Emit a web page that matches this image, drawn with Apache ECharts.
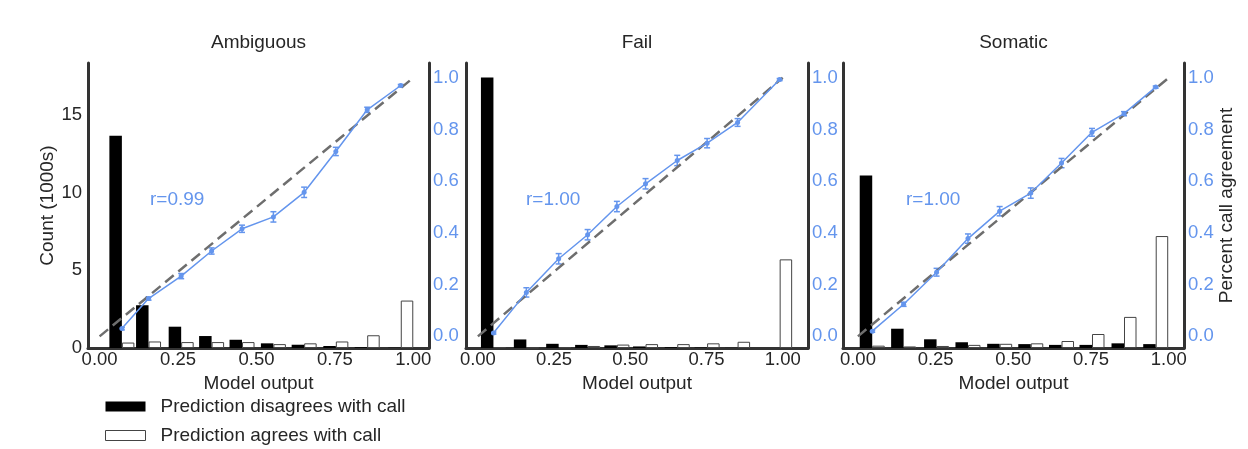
<!DOCTYPE html>
<html lang="en">
<head>
	<meta charset="UTF-8">
	<title>Model output calibration</title>
	<style>
		html, body { margin: 0; padding: 0; background: #fff; }
	</style>
</head>
<body>
	<div id="container" style="width: 1248px;height:449px;"></div>

	<script src="https://cdn.jsdelivr.net/npm/echarts@6/dist/echarts.min.js"></script>
	<script>
        // tick labels
        var xTicks = [0, 0.25, 0.5, 0.75, 1];
        var countTicks = [0, 5, 10, 15];
        var pctTicks = [0, 0.2, 0.4, 0.6, 0.8, 1.0];

        var panelTitles = ['Ambiguous', 'Fail', 'Somatic'];
        var rTexts = ['r=0.99', 'r=1.00', 'r=1.00'];

        // Ambiguous
        var ambigX = [0.071, 0.156, 0.26, 0.357, 0.454, 0.554, 0.652, 0.753, 0.853, 0.96];
        var ambigDisagree = [13.65, 2.75, 1.37, 0.77, 0.53, 0.3, 0.21, 0.13, 0.05, 0.02];
        var ambigAgree = [0.35, 0.42, 0.38, 0.38, 0.38, 0.25, 0.3, 0.42, 0.82, 3.05];
        var ambigPct = [0.03, 0.146, 0.233, 0.33, 0.416, 0.462, 0.557, 0.715, 0.876, 0.97];
        var ambigErr = [0.005, 0.006, 0.01, 0.012, 0.014, 0.02, 0.02, 0.016, 0.01, 0.004];

        // Fail
        var failX = [0.051, 0.159, 0.265, 0.36, 0.456, 0.55, 0.654, 0.752, 0.852, 0.99];
        var failDisagree = [17.4, 0.55, 0.27, 0.2, 0.17, 0.1, 0.05, 0.03, 0.01, 0];
        var failAgree = [0.05, 0.03, 0.05, 0.13, 0.22, 0.25, 0.25, 0.3, 0.4, 5.7];
        var failPct = [0.013, 0.17, 0.3, 0.393, 0.502, 0.59, 0.68, 0.747, 0.827, 0.993];
        var failErr = [0.004, 0.018, 0.02, 0.02, 0.02, 0.02, 0.02, 0.018, 0.015, 0.004];

        // Somatic
        var somX = [0.046, 0.147, 0.253, 0.354, 0.456, 0.556, 0.655, 0.753, 0.856, 0.958];
        var somDisagree = [11.1, 1.24, 0.56, 0.37, 0.27, 0.25, 0.2, 0.2, 0.3, 0.25];
        var somAgree = [0.15, 0.1, 0.13, 0.2, 0.27, 0.3, 0.45, 0.9, 2.0, 7.2];
        var somPct = [0.02, 0.124, 0.248, 0.378, 0.484, 0.554, 0.67, 0.789, 0.861, 0.964];
        var somErr = [0.004, 0.008, 0.015, 0.018, 0.018, 0.02, 0.018, 0.015, 0.008, 0.004];

        var diagonal = [[0, 0], [1, 1]];

        var panels = [
            { x: ambigX, dis: ambigDisagree, agr: ambigAgree, pct: ambigPct, err: ambigErr, xmin: -0.037, xmax: 1.05 },
            { x: failX, dis: failDisagree, agr: failAgree, pct: failPct, err: failErr, xmin: -0.039, xmax: 1.083 },
            { x: somX, dis: somDisagree, agr: somAgree, pct: somPct, err: somErr, xmin: -0.048, xmax: 1.049 }
        ];
        var gridLefts = [88, 466, 843];
        var gridWidths = [341, 342, 341];

        var BLUE = '#6495ED';
        var SPINE = '#333333';
        var TXT = '#262626';
        var FONT = '"Liberation Sans", Arial, sans-serif';
        var FS = 19;   // labels, titles
        var TFS = 18.5; // tick labels

        function zip(a, b) {
            return a.map(function (v, i) { return [v, b[i]]; });
        }

        function errRender(params, api) {
            var x = api.value(0), y = api.value(1), e = api.value(2);
            var top = api.coord([x, y + e]);
            var bot = api.coord([x, y - e]);
            var w = 3;
            var st = { stroke: BLUE, lineWidth: 1.5 };
            return {
                type: 'group',
                children: [
                    { type: 'line', shape: { x1: top[0], y1: top[1], x2: bot[0], y2: bot[1] }, style: st },
                    { type: 'line', shape: { x1: top[0] - w, y1: top[1], x2: top[0] + w, y2: top[1] }, style: st },
                    { type: 'line', shape: { x1: bot[0] - w, y1: bot[1], x2: bot[0] + w, y2: bot[1] }, style: st }
                ]
            };
        }

        var grids = [], xAxes = [], yAxes = [], series = [], titles = [], graphics = [];

        panels.forEach(function (p, i) {
            grids.push({ left: gridLefts[i], width: gridWidths[i], top: 63, bottom: 101 });

            xAxes.push({
                gridIndex: i, type: 'value', min: p.xmin, max: p.xmax,
                name: 'Model output', nameLocation: 'middle', nameGap: 21,
                nameTextStyle: { fontSize: FS, color: TXT, fontFamily: FONT },
                splitLine: { show: false },
                axisTick: { show: false },
                axisLine: { show: true, onZero: false, lineStyle: { color: SPINE, width: 3 } },
                axisLabel: {
                    customValues: xTicks, margin: 2, fontSize: TFS, color: TXT, fontFamily: FONT,
                    formatter: function (v) { return v.toFixed(2); }
                }
            });

            // count axis (left)
            yAxes.push({
                gridIndex: i, type: 'value', position: 'left', min: 0, max: 18.33,
                name: i === 0 ? 'Count (1000s)' : '', nameLocation: 'middle', nameGap: 25,
                nameTextStyle: { fontSize: FS, color: TXT, fontFamily: FONT },
                splitLine: { show: false },
                axisTick: { show: false },
                axisLine: { show: true, onZero: false, lineStyle: { color: SPINE, width: 3 } },
                axisLabel: {
                    show: i === 0, customValues: countTicks, margin: 6,
                    fontSize: TFS, color: TXT, fontFamily: FONT
                }
            });

            // percent axis (right)
            yAxes.push({
                gridIndex: i, type: 'value', position: 'right', min: -0.045, max: 1.057,
                name: i === 2 ? 'Percent call agreement' : '', nameLocation: 'middle', nameGap: 31,
                nameTextStyle: { fontSize: FS, color: TXT, fontFamily: FONT },
                splitLine: { show: false },
                axisTick: { show: false },
                axisLine: { show: true, onZero: false, lineStyle: { color: SPINE, width: 3 } },
                axisLabel: {
                    customValues: pctTicks, margin: 4, fontSize: TFS, color: BLUE, fontFamily: FONT,
                    formatter: function (v) { return v.toFixed(1); }
                }
            });

            series.push({
                name: 'Prediction disagrees with call', type: 'bar',
                xAxisIndex: i, yAxisIndex: i * 2,
                barWidth: 12.5, barGap: '0%',
                itemStyle: { color: '#000' },
                data: zip(p.x, p.dis)
            });
            series.push({
                name: 'Prediction agrees with call', type: 'bar',
                xAxisIndex: i, yAxisIndex: i * 2,
                barWidth: 12.5, barGap: '0%',
                itemStyle: { color: '#fff', borderColor: '#444', borderWidth: 1 },
                data: zip(p.x, p.agr)
            });
            series.push({
                name: 'diag', type: 'line', xAxisIndex: i, yAxisIndex: i * 2 + 1,
                symbol: 'none', silent: true,
                lineStyle: { color: '#6e6e6e', width: 2.5, type: [11, 6] },
                data: diagonal
            });
            series.push({
                name: 'agreement', type: 'line', xAxisIndex: i, yAxisIndex: i * 2 + 1,
                symbol: 'circle', symbolSize: 5,
                itemStyle: { color: BLUE },
                lineStyle: { color: BLUE, width: 1.5 },
                data: zip(p.x, p.pct)
            });
            series.push({
                name: 'err', type: 'custom', xAxisIndex: i, yAxisIndex: i * 2 + 1,
                renderItem: errRender,
                encode: { x: 0, y: 1 },
                data: p.x.map(function (v, k) { return [v, p.pct[k], p.err[k]]; })
            });

            titles.push({
                text: panelTitles[i], left: gridLefts[i] + gridWidths[i] / 2, top: 33,
                textAlign: 'center', padding: 0,
                textStyle: { fontSize: FS, fontWeight: 'normal', color: TXT, fontFamily: FONT }
            });
        });

        var rLefts = [150, 526, 906];
        rTexts.forEach(function (t, i) {
            graphics.push({
                type: 'text', left: rLefts[i], top: 190,
                style: { text: t, fontSize: FS, fill: BLUE, fontFamily: FONT }
            });
        });

        var option = {
            animation: false,
            backgroundColor: '#fff',
            title: titles,
            grid: grids,
            xAxis: xAxes,
            yAxis: yAxes,
            series: series,
            graphic: graphics,
            legend: {
                orient: 'vertical', left: 105, top: 397, padding: 0,
                itemWidth: 40, itemHeight: 10, itemGap: 10,
                icon: 'rect',
                textStyle: { fontSize: FS, color: TXT, fontFamily: FONT, padding: [0, 0, 0, 10] },
                data: [
                    { name: 'Prediction disagrees with call', itemStyle: { color: '#000' } },
                    { name: 'Prediction agrees with call', itemStyle: { color: '#fff', borderColor: '#444', borderWidth: 1 } }
                ]
            }
        };

        var myChart = echarts.init(document.getElementById('container'));
        myChart.setOption(option);
    </script>
</body>
</html>
